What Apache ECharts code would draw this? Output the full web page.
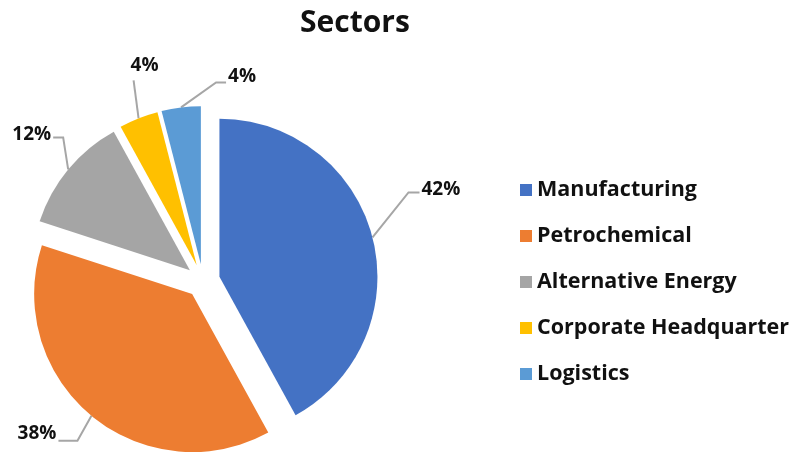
<!DOCTYPE html>
<html>
<head>
<meta charset="utf-8">
<title>Sectors</title>
<script src="https://cdn.jsdelivr.net/npm/echarts@6/dist/echarts.min.js"></script>
<style>
  html, body { margin: 0; padding: 0; background: #fff; }
  #main { width: 804px; height: 458px; }
</style>
</head>
<body>
<div id="main"></div>
<script>
// data
var categories = ["Manufacturing", "Petrochemical", "Alternative Energy", "Corporate Headquarter", "Logistics"];
var shares = [42, 38, 12, 4, 4];
var colors = ["#4472C4", "#ED7D31", "#A5A5A5", "#FFC000", "#5B9BD5"];

// leader line shape per slice (Excel "best fit" look): [dx1, dy1, dx2, labelDy]
var leaders = [
  [36, -45, 11, -3],
  [-14, 25, -19, -7],
  [-5, -32, -10, -3],
  [-5, -38, 0, 0],
  [35, -25, 10, -6]
];

var pieR = 158;
var explode = 17;

var pieData = [];
var labelData = [];
for (var i = 0; i < categories.length; i++) {
  pieData.push({
    name: categories[i],
    value: shares[i],
    selected: true,
    itemStyle: { color: colors[i] }
  });
  labelData.push({ name: categories[i], value: shares[i] });
}

function placeLabel(params) {
  var g = leaders[params.dataIndex];
  var p0 = params.labelLinePoints[0];
  var p1 = [p0[0] + g[0], p0[1] + g[1]];
  var p2 = [p1[0] + g[2], p1[1]];
  if (g[2] === 0) {
    // label sits on top of the line end
    return {
      x: p1[0] - 3,
      y: p1[1] - 5,
      align: "left",
      verticalAlign: "bottom",
      labelLinePoints: [p0, p1, p2]
    };
  }
  var right = g[2] > 0;
  return {
    x: p2[0] + (right ? 2 : -2),
    y: p2[1] + g[3],
    align: right ? "left" : "right",
    verticalAlign: "middle",
    labelLinePoints: [p0, p1, p2]
  };
}

var myChart = echarts.init(document.getElementById("main"));
var option = {
  animation: false,
  backgroundColor: "#fff",
  title: {
    text: "Sectors",
    left: 350,
    textAlign: "center",
    top: 3,
    textStyle: {
      fontFamily: "Open Sans",
      fontWeight: "bold",
      fontSize: 30,
      color: "#111"
    }
  },
  legend: {
    orient: "vertical",
    left: 515,
    top: 174,
    itemWidth: 12,
    itemHeight: 12,
    itemGap: 24,
    icon: "rect",
    data: categories,
    textStyle: {
      fontFamily: "Open Sans",
      fontWeight: "bold",
      fontSize: 21.5,
      color: "#111"
    }
  },
  series: [
    {
      name: "Sectors",
      type: "pie",
      center: [203, 281],
      radius: pieR,
      startAngle: 90,
      clockwise: true,
      selectedMode: "multiple",
      selectedOffset: explode,
      emphasis: { disabled: true },
      label: { show: false },
      labelLine: { show: false },
      data: pieData
    },
    {
      // invisible twin that only carries the percentage labels
      name: "labels",
      type: "pie",
      center: [203, 281],
      radius: pieR + explode,
      startAngle: 90,
      clockwise: true,
      silent: true,
      legendHoverLink: false,
      emphasis: { disabled: true },
      itemStyle: { color: "rgba(0,0,0,0)" },
      label: {
        show: true,
        position: "outside",
        formatter: "{c}%",
        overflow: "none",
        fontFamily: "Open Sans",
        fontWeight: "bold",
        fontSize: 19,
        color: "#111"
      },
      labelLine: {
        show: true,
        length: 20,
        length2: 10,
        lineStyle: { color: "#A6A6A6", width: 2 }
      },
      labelLayout: placeLabel,
      data: labelData
    }
  ]
};
myChart.setOption(option);
</script>
</body>
</html>
